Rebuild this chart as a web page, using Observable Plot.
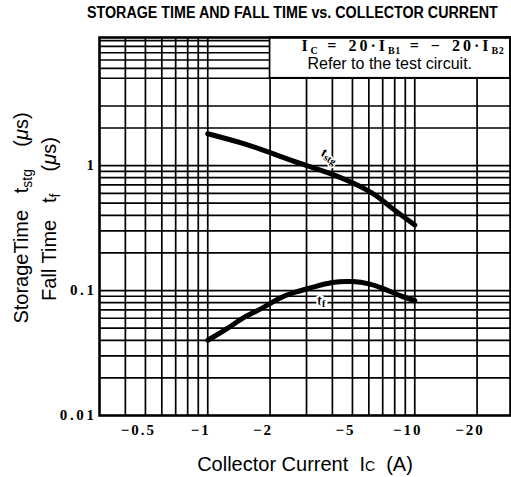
<!DOCTYPE html>
<html><head><meta charset="utf-8">
<script src="https://cdn.jsdelivr.net/npm/d3@7"></script>
<script src="https://cdn.jsdelivr.net/npm/@observablehq/plot@0.6"></script>
<style>
body{margin:0;background:#fff;}
#chart svg{display:block;}
#chart svg g.xtick text{letter-spacing:2px;}
#chart svg g[aria-label="y-axis tick label"] text{letter-spacing:2.6px;}
</style></head><body><div id="chart"></div>
<script>
// Collector current |Ic| (A)
const tstgCurrent = [1, 1.45, 2, 2.8, 4, 6, 7.6, 10];
const tstgValues  = [1.8, 1.52, 1.27, 1.04, 0.85, 0.625, 0.47, 0.335]; // storage time (µs)
const tfCurrent = [1, 1.25, 1.5, 1.85, 2.2, 2.65, 3.2, 4, 5, 6, 7, 8.5, 10];
const tfValues  = [0.040, 0.050, 0.061, 0.073, 0.086, 0.097, 0.106, 0.116, 0.118, 0.113, 0.104, 0.091, 0.083]; // fall time (µs)

const xDomain = [0.3, 29];
const yDomain = [0.01, 10.6];
const xTicks = [0.5, 1, 2, 5, 10, 20];
const yTicks = [0.01, 0.1, 1];
const xGrid = [0.4, 0.5, 0.6, 0.7, 0.8, 0.9, 1, 2, 3, 4, 5, 6, 7, 8, 9, 10, 20];
const yGrid = [0.02, 0.03, 0.04, 0.05, 0.06, 0.07, 0.08, 0.09, 0.1,
               0.2, 0.3, 0.4, 0.5, 0.6, 0.7, 0.8, 0.9, 1, 2, 3, 5, 6, 7, 8, 9, 10];
const noteBox = [{x1: 2, x2: 29, y1: 5, y2: 10.6}];
const tstgLabelAt = {x: 3.5, y: 1.2};
const tfLabelAt = {x: 3.4, y: 0.076};

const tstg = tstgCurrent.map((c, i) => ({c, v: tstgValues[i]}));
const tf = tfCurrent.map((c, i) => ({c, v: tfValues[i]}));

const serif = "'Liberation Serif', 'DejaVu Serif', serif";
const sans = "'Liberation Sans', Arial, sans-serif";

const plot = Plot.plot({
  width: 511, height: 477,
  marginLeft: 99, marginRight: 1, marginTop: 37, marginBottom: 62,
  style: {background: "#fff", color: "#000", overflow: "visible"},
  x: {type: "log", domain: xDomain, axis: null},
  y: {type: "log", domain: yDomain},
  marks: [
    Plot.ruleX(xGrid, {stroke: "#000", strokeWidth: 1.7}),
    Plot.ruleY(yGrid, {stroke: "#000", strokeWidth: 1.7}),
    Plot.rect(noteBox, {x1: "x1", x2: "x2", y1: "y1", y2: "y2", fill: "#fff", stroke: "#000", strokeWidth: 1.7}),
    Plot.line(tstg, {x: "c", y: "v", curve: "natural", stroke: "#000", strokeWidth: 5}),
    Plot.line(tf, {x: "c", y: "v", curve: "natural", stroke: "#000", strokeWidth: 5}),
    Plot.frame({stroke: "#000", strokeWidth: 2.6}),
    Plot.text(xTicks, {x: d => d, text: d => "\u2212" + d, frameAnchor: "bottom", lineAnchor: "top",
      dy: 9, dx: -7, className: "xtick", fontFamily: serif, fontWeight: "bold", fontSize: 15, fill: "#000"}),
    Plot.axisY(yTicks, {tickSize: 0, tickPadding: 3, label: null,
      tickFormat: d => String(d), fontFamily: serif, fontWeight: "bold", fontSize: 15})
  ]
});
document.getElementById("chart").appendChild(plot);

const svg = d3.select(plot);
const sx = plot.scale("x"), sy = plot.scale("y");

function addRich(parent, parts, attrs) {
  const t = parent.append("text");
  for (const [k, v] of Object.entries(attrs)) t.attr(k, v);
  for (const p of parts) {
    const s = t.append("tspan").text(p.t);
    if (p.size) s.attr("font-size", p.size);
    if (p.dy) s.attr("dy", p.dy);
    if (p.style) s.attr("font-style", p.style);
    if (p.ls) s.attr("letter-spacing", p.ls);
  }
  return t;
}

// Title
svg.append("text").attr("transform", "translate(87,18) scale(1,1.12)").attr("text-anchor", "start")
  .attr("font-family", sans).attr("font-weight", "bold").attr("font-size", 14.3)
  .text("STORAGE TIME AND FALL TIME vs. COLLECTOR CURRENT");

// Note box text
const boxCx = (sx.apply(noteBox[0].x1) + sx.apply(noteBox[0].x2)) / 2;
addRich(svg, [
  {t: "I"}, {t: "C", size: 10, dy: 3, ls: "0.5px"}, {t: " = 20\u00b7I", dy: -3}, {t: "B1", size: 10, dy: 3, ls: "0.5px"},
  {t: " = \u2212 20\u00b7I", dy: -3}, {t: "B2", size: 10, dy: 3, ls: "0.5px"}
], {x: boxCx + 13, y: 51, "text-anchor": "middle", "font-family": serif, "font-weight": "bold",
    "font-size": 16, "letter-spacing": "3px", "word-spacing": "2px"});
svg.append("text").attr("x", boxCx).attr("y", 69).attr("text-anchor", "middle")
  .attr("font-family", sans).attr("font-size", 16).text("Refer to the test circuit.");

// Curve labels
addRich(svg, [{t: "t"}, {t: "stg", size: 10, dy: 2}], {
  transform: `translate(${sx.apply(tstgLabelAt.x)},${sy.apply(tstgLabelAt.y)}) rotate(30)`,
  "text-anchor": "start", "font-family": serif, "font-weight": "bold", "font-size": 14,
  stroke: "#fff", "stroke-width": 3, "paint-order": "stroke"});
addRich(svg, [{t: "t"}, {t: "f", size: 10, dy: 2}], {
  x: sx.apply(tfLabelAt.x), y: sy.apply(tfLabelAt.y), "text-anchor": "start",
  "font-family": serif, "font-weight": "bold", "font-size": 14,
  stroke: "#fff", "stroke-width": 4, "paint-order": "stroke"});

// Y axis title (two lines)
addRich(svg, [{t: "StorageTime   t"}, {t: "stg", size: 14, dy: 4}, {t: "    (", dy: -4}, {t: "\u03bc", style: "italic"}, {t: "s)"}],
  {transform: "translate(28,218) rotate(-90)", "text-anchor": "middle", "font-family": sans, "font-size": 20});
addRich(svg, [{t: "Fall Time   t"}, {t: "f", size: 14, dy: 4}, {t: "    (", dy: -4}, {t: "\u03bc", style: "italic"}, {t: "s)"}],
  {transform: "translate(56,219) rotate(-90)", "text-anchor": "middle", "font-family": sans, "font-size": 20});

// X axis title
addRich(svg, [{t: "Collector Current  I"}, {t: "C", size: 14}, {t: "  (A)"}],
  {x: 305, y: 471, "text-anchor": "middle", "font-family": sans, "font-size": 20});
</script></body></html>
